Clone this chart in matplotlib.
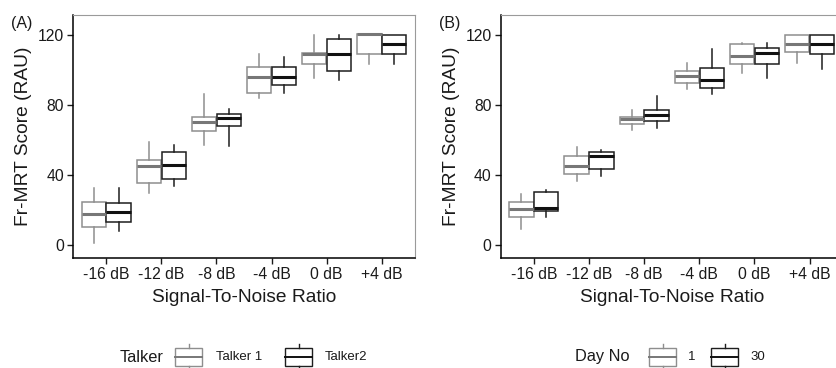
import matplotlib
matplotlib.use("Agg")
import matplotlib.pyplot as plt
from matplotlib.patches import Rectangle
from matplotlib.lines import Line2D

plt.rcParams["font.family"] = ["Liberation Sans", "DejaVu Sans"]

SNR_LABELS = ["-16 dB", "-12 dB", "-8 dB", "-4 dB", "0 dB", "+4 dB"]
Y_TICKS = [0, 40, 80, 120]

# panel A: Talker 1 / Talker2  (whisker low, q1, median, q3, whisker high)
talker1_lo = [1.3, 29.5, 56.8, 83.6, 95.0, 103.0]
talker1_q1 = [10.5, 35.6, 65.0, 86.9, 103.2, 108.7]
talker1_med = [17.5, 44.8, 70.1, 96.0, 109.0, 120.2]
talker1_q3 = [24.4, 48.6, 72.8, 101.7, 109.6, 120.2]
talker1_hi = [32.8, 59.0, 86.1, 108.7, 119.9, 120.2]

talker2_lo = [8.2, 33.7, 56.2, 86.9, 94.0, 103.0]
talker2_q1 = [13.0, 37.7, 67.8, 91.2, 99.4, 108.7]
talker2_med = [18.7, 45.7, 72.3, 96.0, 108.7, 114.4]
talker2_q3 = [23.8, 52.8, 75.0, 101.7, 117.3, 119.9]
talker2_hi = [32.8, 57.1, 77.6, 107.4, 119.8, 119.9]

# panel B: Day No 1 / 30
day1_lo = [9.0, 36.8, 65.6, 88.8, 98.2, 104.0]
day1_q1 = [15.8, 40.6, 68.8, 92.2, 103.2, 109.9]
day1_med = [20.4, 44.8, 71.8, 96.4, 107.8, 114.8]
day1_q3 = [24.4, 50.9, 73.2, 99.2, 114.4, 119.9]
day1_hi = [29.1, 55.8, 77.0, 103.6, 115.3, 119.9]

day30_lo = [16.2, 39.6, 67.0, 86.1, 95.0, 100.3]
day30_q1 = [19.4, 43.4, 71.0, 89.3, 103.0, 108.7]
day30_med = [21.3, 50.5, 74.3, 94.1, 109.3, 114.6]
day30_q3 = [30.1, 52.8, 77.1, 100.7, 112.1, 119.9]
day30_hi = [31.4, 54.3, 84.8, 111.6, 115.3, 119.9]

GREY = "#8e8e8e"
GREY_MED = "#777777"
BLACK = "#1e1e1e"
BLACK_MED = "#111111"
TEXT = "#1a1a1a"

W, H = 836, 368
fig = plt.figure(figsize=(W / 100, H / 100), dpi=100)


def px_box(left, top, right, bottom):
    return [left / W, 1 - bottom / H, (right - left) / W, (bottom - top) / H]


def make_stats(lo, q1, med, q3, hi):
    return [dict(whislo=a, q1=b, med=c, q3=d, whishi=e)
            for a, b, c, d, e in zip(lo, q1, med, q3, hi)]


def draw_group(ax, stats, offset, color, med_color):
    pos = [i + 1 + offset for i in range(len(stats))]
    ax.bxp(stats, positions=pos, widths=0.44, showfliers=False, showcaps=False,
           patch_artist=True,
           boxprops=dict(facecolor="white", edgecolor=color, linewidth=1.1),
           whiskerprops=dict(color=color, linewidth=1.1),
           medianprops=dict(color=med_color, linewidth=2.2, solid_capstyle="butt"))


def style_axes(ax, tag):
    ax.set_xlim(0.4, 6.6)
    ax.set_ylim(-7.4, 131.2)
    ax.set_xticks(range(1, 7))
    ax.set_xticklabels(SNR_LABELS)
    ax.set_yticks(Y_TICKS)
    ax.tick_params(labelsize=11.3, colors=TEXT, length=4, width=1, pad=2.5)
    for s in ("left", "bottom"):
        ax.spines[s].set_color("black")
        ax.spines[s].set_linewidth(1.1)
    for s in ("top", "right"):
        ax.spines[s].set_color("#9a9a9a")
        ax.spines[s].set_linewidth(0.8)
    ax.set_xlabel("Signal-To-Noise Ratio", fontsize=13.8, color=TEXT, labelpad=5)
    ax.set_ylabel("Fr-MRT Score (RAU)", fontsize=13.8, color=TEXT)
    ax.yaxis.set_label_coords(-0.12, 0.5)
    ax.text(-0.18, 0.967, tag, transform=ax.transAxes, fontsize=11.5,
            color=TEXT, ha="left", va="center")


def legend_key(x0, color, med_color):
    top, bot = 348, 366
    fig.add_artist(Rectangle((x0 / W, 1 - bot / H), 27 / W, (bot - top) / H,
                             transform=fig.transFigure, facecolor="white",
                             edgecolor=color, linewidth=1.0))
    xc = (x0 + 13.5) / W
    fig.add_artist(Line2D([xc, xc], [1 - top / H, 1 - 344 / H],
                          transform=fig.transFigure, color=color, linewidth=1.0))
    fig.add_artist(Line2D([xc, xc], [1 - bot / H, 1 - 369 / H],
                          transform=fig.transFigure, color=color, linewidth=1.0))
    fig.add_artist(Line2D([x0 / W, (x0 + 27) / W], [1 - 357 / H, 1 - 357 / H],
                          transform=fig.transFigure, color=med_color, linewidth=1.4))


def legend_text(x, s, size):
    fig.text(x / W, 1 - 357 / H, s, fontsize=size, color=TEXT, ha="left", va="center")


# panel A
axA = fig.add_axes(px_box(73, 15, 415, 258))
draw_group(axA, make_stats(talker1_lo, talker1_q1, talker1_med, talker1_q3, talker1_hi),
           -0.225, GREY, GREY_MED)
draw_group(axA, make_stats(talker2_lo, talker2_q1, talker2_med, talker2_q3, talker2_hi),
           0.225, BLACK, BLACK_MED)
style_axes(axA, "(A)")

# panel B (cut at the right edge, as in the source image)
axB = fig.add_axes(px_box(500.7, 15, 842.7, 258))
draw_group(axB, make_stats(day1_lo, day1_q1, day1_med, day1_q3, day1_hi),
           -0.225, GREY, GREY_MED)
draw_group(axB, make_stats(day30_lo, day30_q1, day30_med, day30_q3, day30_hi),
           0.225, BLACK, BLACK_MED)
style_axes(axB, "(B)")

# legends
legend_text(120, "Talker", 11.8)
legend_key(175, GREY, GREY_MED)
legend_text(216, "Talker 1", 9.5)
legend_key(285, BLACK, BLACK_MED)
legend_text(325, "Talker2", 9.5)

legend_text(575, "Day No", 11.8)
legend_key(649, GREY, GREY_MED)
legend_text(688, "1", 9.5)
legend_key(711, BLACK, BLACK_MED)
legend_text(750, "30", 9.5)

fig.savefig("out.png", dpi=100)
